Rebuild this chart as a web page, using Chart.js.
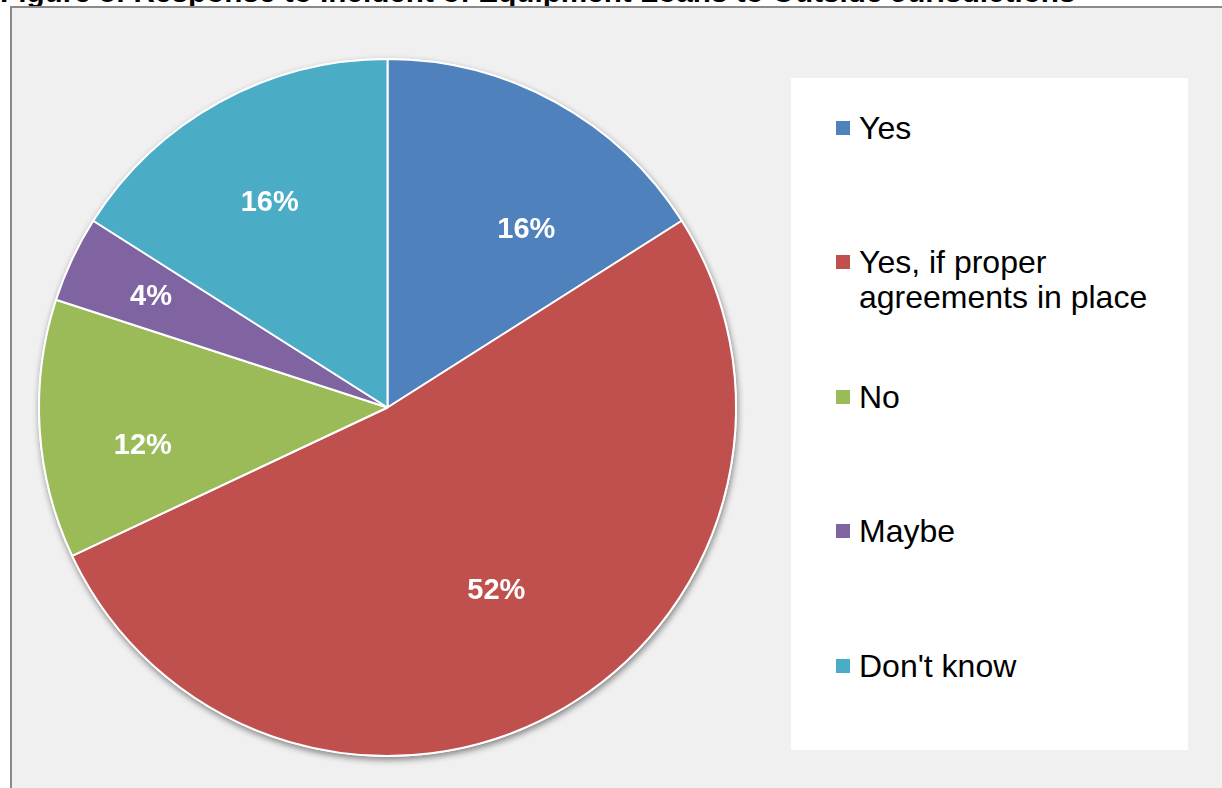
<!DOCTYPE html>
<html>
<head>
<meta charset="utf-8">
<script src="https://cdn.jsdelivr.net/npm/chart.js@4/dist/chart.umd.min.js"></script>
<style>
  body { margin: 0; background: #fff; font-family: Arial, "Liberation Sans", sans-serif; }
  #wrap { position: relative; width: 1222px; height: 788px; overflow: hidden; }
  #title { position: absolute; left: 0; top: -23px; font-size: 29.7px; line-height: 30px; font-weight: bold; color: #000; white-space: nowrap; }
  #frame { position: absolute; left: 10px; top: 6px; width: 1230px; height: 800px; background: #f0f0f0; border-top: 2px solid #8a8a8a; border-left: 2px solid #8a8a8a; }
  #legendBox { position: absolute; left: 791px; top: 78px; width: 397px; height: 672px; background: #fff; }
  .item { position: absolute; left: 68px; font-size: 32px; line-height: 35px; color: #000; }
  .item .sq { position: absolute; left: -23px; top: 10px; width: 14px; height: 14px; }
  .item .txt { display: block; width: 300px; }
  #chart { position: absolute; left: 0; top: 0; }
</style>
</head>
<body>
<div id="wrap">
  <div id="title">Figure 8: Response to Incident of Equipment Loans to Outside Jurisdictions</div>
  <div id="frame"></div>
  <div id="legendBox"></div>
  <canvas id="chart" width="1222" height="788"></canvas>
</div>
<script>
var categories = ["Yes", "Yes, if proper agreements in place", "No", "Maybe", "Don't know"];
var percents = [16, 52, 12, 4, 16];
var colors = ["#4F81BD", "#C0504D", "#9BBB59", "#8064A2", "#4BACC6"];

// label nudges: degrees off the mid angle, and fraction of the radius
var labelShift = [9, -2, -5, 0, -1];
var labelRadius = [0.65, 0.61, 0.71, 0.75, 0.68];

function buildLegend(){
    var box = document.querySelector("#legendBox");
    for(var i = 0; i < categories.length; i++)
    {
        var item = document.createElement("div");
        item.className = "item";
        item.style.top = (32.5 + i * 134.5) + "px";
        var sq = document.createElement("span");
        sq.className = "sq";
        sq.style.background = colors[i];
        var txt = document.createElement("span");
        txt.className = "txt";
        txt.textContent = categories[i];
        item.appendChild(sq);
        item.appendChild(txt);
        box.appendChild(item);
    }
}

var pieShadow = {
    id: "pieShadow",
    beforeDatasetsDraw: function(chart){
        var arc = chart.getDatasetMeta(0).data[0];
        if(!arc) return;
        var ctx = chart.ctx;
        ctx.save();
        ctx.shadowColor = "rgba(0,0,0,0.45)";
        ctx.shadowBlur = 6;
        ctx.shadowOffsetX = 1;
        ctx.shadowOffsetY = 3;
        ctx.fillStyle = "#ffffff";
        ctx.beginPath();
        ctx.arc(arc.x, arc.y, arc.outerRadius + 1, 0, Math.PI * 2);
        ctx.fill();
        ctx.restore();
    }
};

var pctLabels = {
    id: "pctLabels",
    afterDatasetsDraw: function(chart){
        var ctx = chart.ctx;
        var arcs = chart.getDatasetMeta(0).data;
        ctx.save();
        ctx.fillStyle = "#ffffff";
        ctx.font = "bold 29px Arial, 'Liberation Sans', sans-serif";
        ctx.textAlign = "center";
        ctx.textBaseline = "middle";
        for(var i = 0; i < arcs.length; i++)
        {
            var a = arcs[i];
            var mid = (a.startAngle + a.endAngle) / 2 + labelShift[i] * Math.PI / 180;
            var r = a.outerRadius * labelRadius[i];
            ctx.fillText(percents[i] + "%", a.x + Math.cos(mid) * r, a.y + Math.sin(mid) * r + 1);
        }
        ctx.restore();
    }
};

function drawChart(){
    var ctx = document.getElementById("chart").getContext("2d");
    var myPie = new Chart(ctx, {
        type: "pie",
        data: {
            labels: categories,
            datasets: [{
                data: percents,
                backgroundColor: colors,
                borderColor: "#ffffff",
                borderWidth: 2
            }]
        },
        options: {
            responsive: false,
            animation: false,
            layout: { padding: { left: 38, right: 485, top: 58, bottom: 31 } },
            plugins: {
                legend: { display: false },
                tooltip: { enabled: false }
            }
        },
        plugins: [pieShadow, pctLabels]
    });
}

buildLegend();
drawChart();
</script>
</body>
</html>
